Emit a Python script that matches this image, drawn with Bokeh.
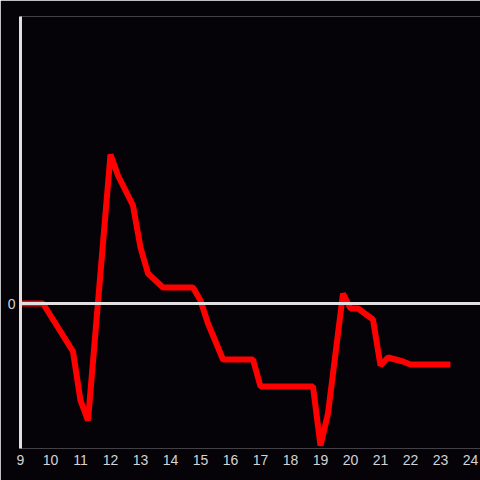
from bokeh.plotting import figure
from bokeh.models import Span, Range1d, FixedTicker
from bokeh.embed import file_html
from bokeh.resources import INLINE

hours = [9.0, 9.75, 10.75, 11.0, 11.25, 12.0, 12.25, 12.75, 13.0, 13.25, 13.75,
         14.75, 15.0, 15.25, 15.75, 16.75, 17.0, 18.75, 19.0, 19.25, 19.75,
         20.0, 20.25, 20.75, 21.0, 21.25, 21.75, 22.0, 23.33]
values = [0, 0, -48, -97, -117, 149, 128, 98, 56, 30, 16,
          16, 3, -20, -56, -56, -83, -83, -142, -110, 10,
          -5, -5, -16, -62, -54, -58, -61, -61]
x_ticks = list(range(9, 25))
y_ticks = [0]

BG = "#050308"
p = figure(width=480, height=480, output_backend="svg", toolbar_location=None,
           x_range=Range1d(9, 9 + 460 / 30), y_range=Range1d(-145, 287),
           background_fill_color=BG, border_fill_color=BG,
           min_border_left=20, min_border_right=0, min_border_top=16, min_border_bottom=32)
p.outline_line_color = None
p.grid.visible = False

p.xaxis.ticker = FixedTicker(ticks=x_ticks)
p.xaxis.axis_line_color = None
p.xaxis.major_tick_line_color = None
p.xaxis.major_tick_out = 0
p.xaxis.minor_tick_line_color = None
p.xaxis.major_label_text_color = "#d4d4d4"
p.xaxis.major_label_text_font = "Liberation Sans"
p.xaxis.major_label_text_font_size = "14px"
p.xaxis.major_label_standoff = 6

p.yaxis.ticker = FixedTicker(ticks=y_ticks)
p.yaxis.axis_line_color = "#e0e0e0"
p.yaxis.axis_line_width = 3
p.yaxis.major_tick_line_color = None
p.yaxis.major_tick_out = 0
p.yaxis.minor_tick_line_color = None
p.yaxis.major_label_text_color = "#d4d4d4"
p.yaxis.major_label_text_font = "Liberation Sans"
p.yaxis.major_label_text_font_size = "14px"
p.yaxis.major_label_standoff = 5

p.add_layout(Span(location=0, dimension="width", line_color="#e0e0e0", line_width=3))
p.line(hours, values, line_color="#ff0000", line_width=6)

open("out.html", "w").write(file_html(p, INLINE))
